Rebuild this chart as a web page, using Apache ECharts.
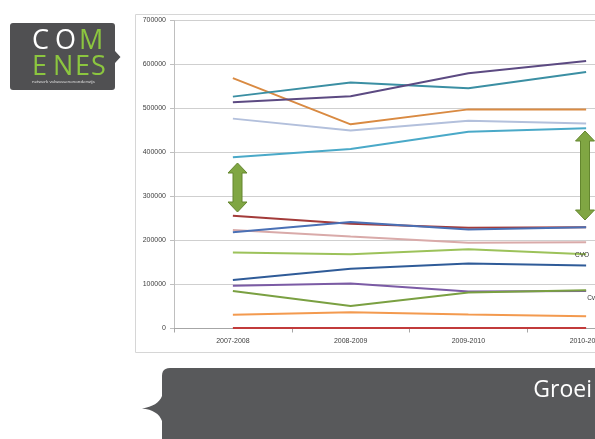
<!DOCTYPE html>
<html>
<head>
<meta charset="utf-8">
<script src="https://cdn.jsdelivr.net/npm/echarts@6/dist/echarts.min.js"></script>
<style>
html,body{margin:0;padding:0;background:#fff;}
#chart{width:595px;height:439px;}
</style>
</head>
<body>
<div id="chart"></div>
<script>
const categories = ['2007-2008', '2008-2009', '2009-2010', '2010-2011'];
const yTicks = { min: 0, max: 700000, interval: 100000 };

const orange      = [569000, 464000, 498000, 498000];
const teal        = [527000, 559000, 546000, 583000];
const purple      = [514000, 528000, 580000, 608000];
const lavender    = [477000, 450000, 472000, 466000];
const cyan        = [389000, 408000, 447000, 455000];
const darkRed     = [256000, 238000, 229000, 230000];
const blue        = [219000, 242000, 225000, 230000];
const pink        = [224000, 209000, 195000, 196000];
const lime        = [173000, 169000, 180000, 169000];
const navy        = [110000, 136000, 148000, 143000];
const violet      = [97000, 102000, 84000, 85000];
const olive       = [85000, 51000, 82000, 87000];
const lightOrange = [31000, 37000, 32000, 28000];
const red         = [1000, 1000, 1000, 1000];

const seriesList = [
  { name: 'orange', data: orange, color: '#d98a42' },
  { name: 'teal', data: teal, color: '#3b8fa3' },
  { name: 'purple', data: purple, color: '#5c4a82' },
  { name: 'lavender', data: lavender, color: '#b3c0dc' },
  { name: 'cyan', data: cyan, color: '#4aa9c8' },
  { name: 'pink', data: pink, color: '#d9aaa9' },
  { name: 'darkRed', data: darkRed, color: '#a33b3a' },
  { name: 'blue', data: blue, color: '#4a70b5' },
  { name: 'lime', data: lime, color: '#9cc25a' },
  { name: 'navy', data: navy, color: '#2f5b98' },
  { name: 'violet', data: violet, color: '#7b5ba5' },
  { name: 'olive', data: olive, color: '#7aa042' },
  { name: 'lightOrange', data: lightOrange, color: '#f39a4f' },
  { name: 'red', data: red, color: '#c23b3b' }
];

const chart = echarts.init(document.getElementById('chart'), null, { renderer: 'canvas' });

function arrow(cx, top, bot) {
  const hw = 9.5, sw = 4.5, hl = 10;
  return {
    type: 'polygon',
    shape: { points: [
      [cx, top], [cx + hw, top + hl], [cx + sw, top + hl], [cx + sw, bot - hl], [cx + hw, bot - hl],
      [cx, bot], [cx - hw, bot - hl], [cx - sw, bot - hl], [cx - sw, top + hl], [cx - hw, top + hl]
    ] },
    style: { fill: '#80a643', stroke: '#64862f', lineWidth: 1 },
    z: 100
  };
}

function quad(p0, c, p1, n) {
  const pts = [];
  for (let i = 1; i <= n; i++) {
    const t = i / n, u = 1 - t;
    pts.push([u * u * p0[0] + 2 * u * t * c[0] + t * t * p1[0], u * u * p0[1] + 2 * u * t * c[1] + t * t * p1[1]]);
  }
  return pts;
}

const logoPts = [[13, 23], [112, 23]]
  .concat(quad([112, 23], [115, 23], [115, 26], 4))
  .concat([[115, 51], [120.5, 57], [115, 63], [115, 87]])
  .concat(quad([115, 87], [115, 90], [112, 90], 4))
  .concat([[13, 90]])
  .concat(quad([13, 90], [10, 90], [10, 87], 4))
  .concat([[10, 26]])
  .concat(quad([10, 26], [10, 23], [13, 23], 4));

const calloutPts = [[162, 376]]
  .concat(quad([162, 376], [162, 368], [170, 368], 6))
  .concat([[600, 368], [600, 440], [162, 440], [162, 421]])
  .concat(quad([162, 421], [158, 410], [142, 408.5], 8))
  .concat(quad([142, 408.5], [158, 406], [162, 396], 8));

const gridLeft = 174, gridTop = 20.5, gridW = 471, gridH = 308;
const logoFont = { fontSize: 27, fontFamily: 'Open Sans' };

const option = {
  backgroundColor: '#ffffff',
  animation: false,
  grid: { left: gridLeft, top: gridTop, width: gridW, height: gridH, containLabel: false, outerBoundsMode: 'none' },
  xAxis: {
    type: 'category',
    data: categories,
    boundaryGap: true,
    axisLine: { show: true, lineStyle: { color: '#a6a6a6', width: 1 } },
    axisTick: { show: true, length: 4, lineStyle: { color: '#a6a6a6' } },
    axisLabel: { color: '#404040', fontSize: 7, fontFamily: 'Liberation Sans', margin: 9 },
    splitLine: { show: false }
  },
  yAxis: {
    type: 'value',
    min: yTicks.min, max: yTicks.max, interval: yTicks.interval,
    axisLine: { show: true, lineStyle: { color: '#bfbfbf', width: 1 } },
    axisTick: { show: true, length: 4, lineStyle: { color: '#bfbfbf' } },
    axisLabel: { color: '#404040', fontSize: 7, fontFamily: 'Liberation Sans', margin: 8, formatter: v => String(v) },
    splitLine: { show: true, lineStyle: { color: '#cfcfcf', width: 1 } }
  },
  series: seriesList.map(s => ({
    name: s.name,
    type: 'line',
    data: s.data,
    showSymbol: false,
    symbol: 'none',
    lineStyle: { color: s.color, width: 2 },
    itemStyle: { color: s.color }
  }))
};
chart.setOption(option);

const pLime = chart.convertToPixel({ gridIndex: 0 }, [3, lime[3]]);
const pViolet = chart.convertToPixel({ gridIndex: 0 }, [3, violet[3]]);

function letter(ch, x, y, color) {
  return { type: 'text', left: x, top: y, style: Object.assign({ text: ch, fill: color }, logoFont), z: 51 };
}

chart.setOption({
  graphic: [
    { type: 'rect', shape: { x: 135.5, y: 14.5, width: 480, height: 338 }, style: { fill: 'none', stroke: '#d6d6d6', lineWidth: 1 }, z: -10, silent: true },
    { type: 'polygon', shape: { points: logoPts }, style: { fill: '#505052' }, z: 50 },
    letter('C', 32, 28, '#ffffff'),
    letter('O', 55, 28, '#ffffff'),
    letter('M', 79, 28, '#8cc63f'),
    letter('E', 32, 54, '#8cc63f'),
    letter('N', 53, 54, '#8cc63f'),
    letter('E', 75, 54, '#8cc63f'),
    letter('S', 91, 54, '#8cc63f'),
    { type: 'text', left: 32, top: 80, style: { text: 'netwerk volwassenenonderwijs', fill: '#e8e8e8', fontSize: 4.3, fontFamily: 'Open Sans' }, z: 51 },
    { type: 'polygon', shape: { points: calloutPts }, style: { fill: '#58595b' }, z: 50 },
    { type: 'text', right: 3, top: 379, style: { text: 'Groei', fill: '#ffffff', fontSize: 23, fontFamily: 'Open Sans' }, z: 51 },
    arrow(237.5, 163, 212),
    arrow(585, 131, 220),
    { type: 'text', x: pLime[0] - 4, y: pLime[1] + 1, style: { text: 'CVO', fill: '#333333', fontSize: 6.5, fontFamily: 'Liberation Sans', align: 'center', verticalAlign: 'middle' }, z: 60 },
    { type: 'text', x: pViolet[0] + 1, y: pViolet[1] + 7, style: { text: 'Cv', fill: '#333333', fontSize: 6.5, fontFamily: 'Liberation Sans', align: 'left', verticalAlign: 'middle' }, z: 60 }
  ]
});
</script>
</body>
</html>
